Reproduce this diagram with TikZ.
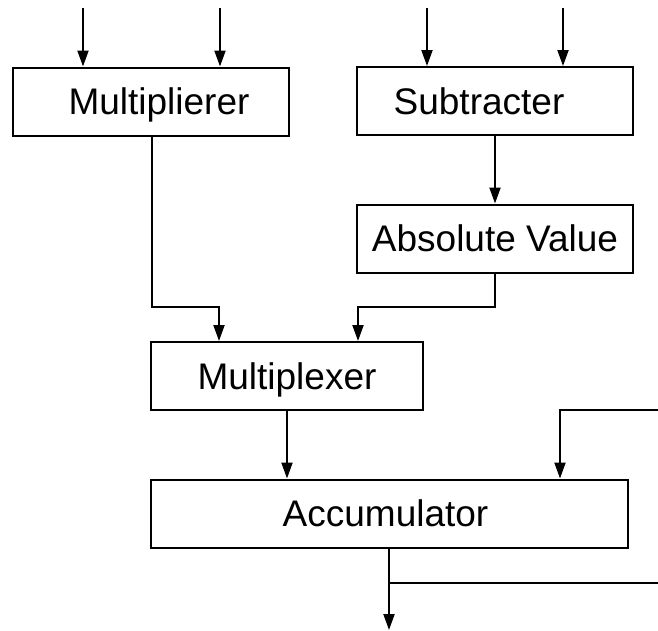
\documentclass[tikz,border=0pt]{standalone}
\usepackage{fontspec}
\setmainfont{Liberation Sans}
\usetikzlibrary{arrows.meta}
\begin{document}
\begin{tikzpicture}[x=1pt,y=-1pt]
		\newcommand{\bw}{276pt} % width of the small blocks
		\newcommand{\bh}{68pt}  % height of the blocks
		\newcommand{\lw}{2pt}
	
		% set the styles of the blocks and the wires
		\tikzset{
			block/.style={
				draw,
				line width=\lw,
				minimum width=\bw,
				minimum height=\bh,
				inner sep=0pt,
				text height=26pt,
				text depth=0pt,
				font=\fontsize{37}{40}\selectfont
				},
			wire/.style={
				line width=\lw
				},
			arr/.style={
				wire,
				-{Triangle[length=16pt,width=11pt]}
				}
		}
	
		\useasboundingbox (0,0) rectangle (658,630);
	
		% blocks
		\node[block] (mul) at (151,101.5) {\hspace*{16pt}Multiplierer};
		\node[block] (sub) at (495,101)   {Subtracter\hspace*{32pt}};
		\node[block] (abs) at (495,238.5) {Absolute Value};
		\node[block, minimum width=272pt] (mux) at (287,376) {Multiplexer};
		\node[block, minimum width=477pt] (acc) at (389.5,513.5) {Accumulator\hspace*{8pt}};
	
		% free ends and corners of the wires
		\coordinate (in1) at (83,8);
		\coordinate (in2) at (220,8);
		\coordinate (in3) at (427,8);
		\coordinate (in4) at (563,8);
		\coordinate (j1) at (152,307);
		\coordinate (j2) at (219,307);
		\coordinate (j3) at (358,307);
		\coordinate (fb) at (658,410);
		\coordinate (fb2) at (560,410);
		\coordinate (br) at (389,583);
		\coordinate (brend) at (658,583);
		\coordinate (out) at (389,630);
	
		% inputs
		\draw[arr] (in1) -- (in1 |- mul.north);
		\draw[arr] (in2) -- (in2 |- mul.north);
		\draw[arr] (in3) -- (in3 |- sub.north);
		\draw[arr] (in4) -- (in4 |- sub.north);
	
		% wires between the blocks
		\draw[arr] (sub.south) -- (abs.north);
		\draw[arr] (mul.south -| j1) -- (j1) -- (j2) -- (j2 |- mux.north);
		\draw[arr] (abs.south) -- (abs.south |- j3) -- (j3) -- (j3 |- mux.north);
		\draw[arr] (mux.south) -- (mux.south |- acc.north);
		\draw[arr] (fb) -- (fb2) -- (fb2 |- acc.north);
	
		% output
		\draw[arr] (acc.south -| out) -- (out);
		\draw[wire] (br) -- (brend);
\end{tikzpicture}
\end{document}
